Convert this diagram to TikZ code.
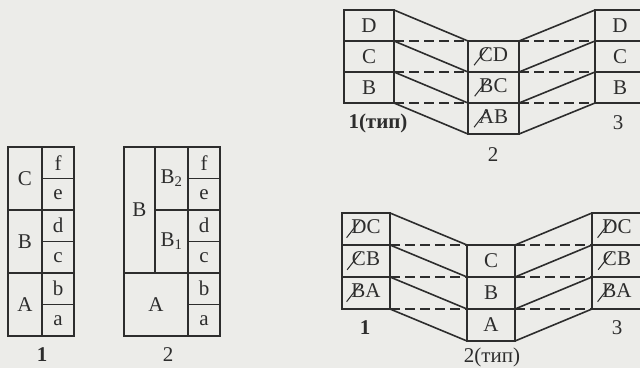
\documentclass[tikz,border=0pt]{standalone}
\usepackage{fontspec}
\setmainfont{Liberation Serif}
\usepackage{tikz}

\definecolor{paper}{RGB}{236,236,233}
\definecolor{ink}{RGB}{45,45,45}

% letter with a slash through it
\newcommand{\slsh}[1]{\ooalign{#1\cr\kern-0.25em\raisebox{-0.2em}{\rotatebox{52}{\rule{1.05em}{0.05em}}}\cr}}

\tikzset{
  cell/.style={draw=ink, line width=1.6pt, inner sep=0pt, outer sep=0pt, anchor=north west,
    text=ink, font=\fontsize{21}{23}\selectfont},
  ucell/.style={cell, minimum width=50pt, minimum height=31pt},
  lcell/.style={cell, minimum width=48pt, minimum height=32pt},
  scell/.style={cell, minimum width=32pt, minimum height=31.5pt},
  link/.style={draw=ink, line width=1.6pt},
  hlink/.style={link, dash pattern=on 10pt off 5pt},
  frame/.style={draw=ink, line width=2.2pt},
  lab/.style={text=ink, font=\fontsize{21}{23}\selectfont}
}

\begin{document}
\begin{tikzpicture}[x=1pt, y=-1pt]
        % Paper and page size
        \fill[paper] (0,0) rectangle (640,368);
        \useasboundingbox (0,0) rectangle (640,368);

        % Left plan 1
        \node[cell, minimum width=34pt, minimum height=63pt] (aC) at (8,147) {C};
        \node[cell, minimum width=34pt, minimum height=63pt] (aB) at (8,210) {B};
        \node[cell, minimum width=34pt, minimum height=63pt] (aA) at (8,273) {A};
        \node[scell] (af) at (42,147) {f};
        \node[scell] (ae) at (42,178.5) {e};
        \node[scell] (ad) at (42,210) {d};
        \node[scell] (ac) at (42,241.5) {c};
        \node[scell] (ab) at (42,273) {b};
        \node[scell] (aa) at (42,304.5) {a};
        \draw[frame] (aC.north west) rectangle (aa.south east);
        \node[lab] (an) at (42,355) {\textbf{1}};

        % Left plan 2
        \node[cell, minimum width=31pt, minimum height=126pt] (bB) at (124,147) {B};
        \node[cell, minimum width=33pt, minimum height=63pt] (bB2) at (155,147) {B\textsubscript{2}};
        \node[cell, minimum width=33pt, minimum height=63pt] (bB1) at (155,210) {B\textsubscript{1}};
        \node[cell, minimum width=64pt, minimum height=63pt] (bA) at (124,273) {A};
        \node[scell] (bf) at (188,147) {f};
        \node[scell] (be) at (188,178.5) {e};
        \node[scell] (bd) at (188,210) {d};
        \node[scell] (bc) at (188,241.5) {c};
        \node[scell] (bb) at (188,273) {b};
        \node[scell] (ba) at (188,304.5) {a};
        \draw[frame] (bB.north west) rectangle (ba.south east);
        \node[lab] (bn) at (168,355) {2};

        % Upper scheme: blocks 1, 2, 3
        \node[ucell] (u1d) at (344,10) {D};
        \node[ucell] (u1c) at (344,41) {C};
        \node[ucell] (u1b) at (344,72) {B};
        \node[ucell, minimum width=51pt] (u2cd) at (468,41) {\slsh{C}D};
        \node[ucell, minimum width=51pt] (u2bc) at (468,72) {\slsh{B}C};
        \node[ucell, minimum width=51pt] (u2ab) at (468,103) {\slsh{A}B};
        \node[ucell] (u3d) at (595,10) {D};
        \node[ucell] (u3c) at (595,41) {C};
        \node[ucell] (u3b) at (595,72) {B};

        \draw[link] (u1d.north east) -- (u2cd.north west)
          (u1c.north east) -- (u2bc.north west)
          (u1b.north east) -- (u2ab.north west)
          (u1b.south east) -- (u2ab.south west)
          (u2cd.north east) -- (u3d.north west)
          (u2bc.north east) -- (u3c.north west)
          (u2ab.north east) -- (u3b.north west)
          (u2ab.south east) -- (u3b.south west);
        \draw[hlink] (u1c.north east) -- (u2cd.north west)
          (u1b.north east) -- (u2bc.north west)
          (u1b.south east) -- (u2ab.north west)
          (u2cd.north east) -- (u3c.north west)
          (u2bc.north east) -- (u3b.north west)
          (u2ab.north east) -- (u3b.south west);

        \node[lab] (u1n) at (378,123) {\textbf{1(тип)}};
        \node[lab] (u2n) at (493,155) {2};
        \node[lab] (u3n) at (618,123) {3};

        % Lower scheme: blocks 1, 2, 3
        \node[lcell] (l1dc) at (342,213) {\slsh{D}C};
        \node[lcell] (l1cb) at (342,245) {\slsh{C}B};
        \node[lcell] (l1ba) at (342,277) {\slsh{B}A};
        \node[lcell] (l2c) at (467,245) {C};
        \node[lcell] (l2b) at (467,277) {B};
        \node[lcell] (l2a) at (467,309) {A};
        \node[lcell, minimum width=50pt] (l3dc) at (592,213) {\slsh{D}C};
        \node[lcell, minimum width=50pt] (l3cb) at (592,245) {\slsh{C}B};
        \node[lcell, minimum width=50pt] (l3ba) at (592,277) {\slsh{B}A};

        \draw[link] (l1dc.north east) -- (l2c.north west)
          (l1cb.north east) -- (l2b.north west)
          (l1ba.north east) -- (l2a.north west)
          (l1ba.south east) -- (l2a.south west)
          (l2c.north east) -- (l3dc.north west)
          (l2b.north east) -- (l3cb.north west)
          (l2a.north east) -- (l3ba.north west)
          (l2a.south east) -- (l3ba.south west);
        \draw[hlink] (l1cb.north east) -- (l2c.north west)
          (l1ba.north east) -- (l2b.north west)
          (l1ba.south east) -- (l2a.north west)
          (l2c.north east) -- (l3cb.north west)
          (l2b.north east) -- (l3ba.north west)
          (l2a.north east) -- (l3ba.south west);

        \node[lab] (l1n) at (365,328) {\textbf{1}};
        \node[lab] (l2n) at (492,357) {2(тип)};
        \node[lab] (l3n) at (617,328) {3};
\end{tikzpicture}
\end{document}
